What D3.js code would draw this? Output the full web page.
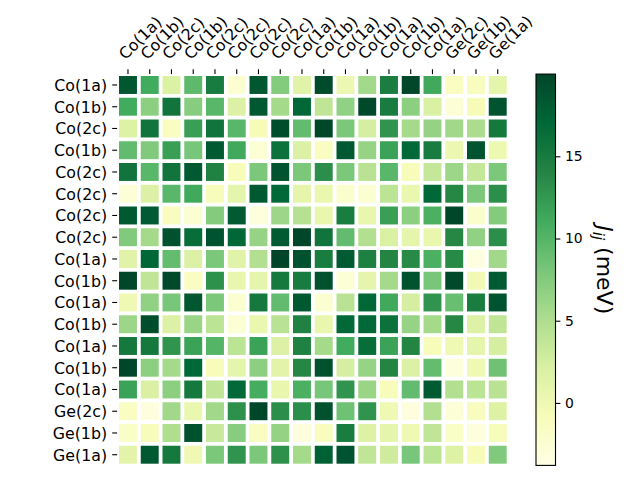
<!DOCTYPE html>
<html>
<head>
<meta charset="utf-8">
<script src="https://cdn.jsdelivr.net/npm/d3@7"></script>
<style>
  html, body { margin: 0; padding: 0; background: #fff; }
  svg { display: block; font-family: "DejaVu Sans", sans-serif; }
</style>
</head>
<body>
<svg id="chart" width="640" height="480"></svg>
<script>
const colLabels = ["Co(1a)","Co(1b)","Co(2c)","Co(1b)","Co(2c)","Co(2c)","Co(2c)","Co(2c)","Co(1a)","Co(1b)","Co(1a)","Co(1b)","Co(1a)","Co(1b)","Co(1a)","Ge(2c)","Ge(1b)","Ge(1a)"];
const rowLabels = ["Co(1a)","Co(1b)","Co(2c)","Co(1b)","Co(2c)","Co(2c)","Co(2c)","Co(2c)","Co(1a)","Co(1b)","Co(1a)","Co(1b)","Co(1a)","Co(1b)","Co(1a)","Ge(2c)","Ge(1b)","Ge(1a)"];
const values = [
  [18.5, 11, 2, 9.5, 15, -2.5, 18.5, 7.5, 1.5, 19.5, 0.3, 5.7, 14.7, 19.8, 11.2, -1.4, -1.2, 1],
  [11, 7, 15.7, 7.2, 9.8, 1.9, 18.3, 5.5, 17, 3.8, 6.7, 19.6, 15, 7, 2.1, -2.8, -0.7, 18.8],
  [1.7, 15.7, -1.4, 12, 15.7, 9.8, -0.7, 19.3, 9.3, 19.8, 7.9, 2.4, 12.8, 5.5, 6.5, 5.8, 5.2, 15.2],
  [9.3, 7.6, 12, 8.1, 18.2, 11.2, -2.6, 16, 1.9, -1.4, 18.3, 6.4, 11.7, 16.9, 15, 0.3, 18.8, 0.2],
  [15.7, 9.8, 15.7, 18.2, 14.3, -0.9, 7.9, 18.8, 7.9, 13.3, 7.9, 4.3, 9.8, -0.9, 3.6, 6, 3.6, 7.9],
  [-2.8, 1.9, 9.8, 11.2, -0.9, 1, 18.2, 16.9, 1, 0.5, -2.1, -2.4, 4.1, 0.5, 17, 13.8, 7.9, 13.3],
  [18.3, 18.1, -1.2, -2.4, 7.4, 18.1, -3.1, 6, 4.5, 0.7, 14.8, 0.7, 12, 7, 10.5, 19.8, -2.1, 7.4],
  [7.6, 5.5, 19, 16.4, 18.8, 17, 6.4, 18.1, 19.8, 15.7, 9.3, 4.8, 2.1, 1, 0.7, 13.8, 6.7, 13.3],
  [1.4, 17, 9.2, 1.9, 7.9, 1.4, 4.8, 20, 19, 14.8, 18.1, 14.5, 14, 13.6, 10.5, 13.6, -3.5, 5.8],
  [19.8, 3.8, 19.6, -1.4, 13.1, 0.7, 1, 15.2, 15, 19, -2.6, 1, 5.5, 19, 8.1, 19.6, -0.2, 18.1],
  [0, 6.7, 8.1, 18.5, 7.9, -2.4, 15.2, 9.3, 18.3, -2.4, 4.3, 17, 11.2, 2.4, 12.8, 8.9, 14.8, 18.8],
  [6, 19.3, 1.9, 6.2, 4.1, -2.6, 0.5, 4.3, 14.3, 0.7, 16.9, 16.9, 16, 6.4, 5.5, 13.8, 1.7, 3.8],
  [15.2, 15.2, 12.8, 11.7, 10, 4.1, 11.7, 1.9, 14.3, 5.5, 11, 16.4, 11.7, 14, -0.9, 0, 1, 2.4],
  [19.8, 7, 5.5, 16.9, -0.9, 1, 7, 1.2, 13.8, 19, 2.4, 6.4, 14, 1.9, 9.2, -3.1, 0, 8.6],
  [11.7, 2.1, 7, 15.2, 3.8, 16.9, 10.8, 0.7, 10.5, 8.1, 12.8, 6.2, -0.9, 9.3, 18.1, 4.8, 4.1, 4.3],
  [-1.4, -3.3, 5.8, 0.5, 5.8, 13.1, 19.8, 13.3, 13.3, 19, 8.6, 12.8, 0, -3.3, 4.8, -2.8, -1.2, 1.7],
  [-1.7, -0.9, 5, 19, 3.3, 7.2, -1.4, 6.5, -3.3, -1.2, 14.8, 1.7, 1, 0, 3.8, -1.7, -3.1, -0.9],
  [1.2, 18.3, 15.2, 0, 7.9, 12.8, 7.9, 13.1, 5.5, 17.6, 18.8, 3.8, 2.8, 8.1, 4.1, 1.7, -0.7, 7.6]
];
const colorbarTicks = [0, 5, 10, 15];
const vmin = -3.8, vmax = 20.0;
const ylgn = ["#ffffe5","#f7fcb9","#d9f0a3","#addd8e","#78c679","#41ab5d","#238443","#006837","#004529"];

const svg = d3.select("#chart");
const plotLeft = 117.1, plotTop = 74.1, plotSize = 391.5;
const n = colLabels.length;

const x = d3.scaleBand().domain(d3.range(n)).range([plotLeft, plotLeft + plotSize]).padding(0);
const y = d3.scaleBand().domain(d3.range(n)).range([plotTop, plotTop + plotSize]).padding(0);
const color = d3.scaleLinear()
  .domain(ylgn.map((_, i) => vmin + (vmax - vmin) * i / (ylgn.length - 1)))
  .range(ylgn).interpolate(d3.interpolateRgb).clamp(true);

const cells = [];
values.forEach((row, i) => row.forEach((v, j) => cells.push({i, j, v})));
const inset = 1.9;
svg.append("g").selectAll("rect").data(cells).join("rect")
  .attr("x", d => x(d.j) + inset)
  .attr("y", d => y(d.i) + inset)
  .attr("width", x.bandwidth() - 2 * inset)
  .attr("height", y.bandwidth() - 2 * inset)
  .attr("fill", d => color(d.v));

// top ticks
const gTop = svg.append("g");
d3.range(n).forEach(j => {
  const cx = x(j) + x.bandwidth() / 2;
  gTop.append("line").attr("x1", cx).attr("x2", cx).attr("y1", plotTop).attr("y2", plotTop - 4.9)
    .attr("stroke", "#000").attr("stroke-width", 1.1);
  gTop.append("text").attr("transform", `translate(${cx - 2.5},${60.5}) rotate(-45)`)
    .attr("font-size", 15.8).attr("fill", "#000").text(colLabels[j]);
});
// left ticks
const gLeft = svg.append("g");
d3.range(n).forEach(i => {
  const cy = y(i) + y.bandwidth() / 2;
  gLeft.append("line").attr("x1", plotLeft).attr("x2", plotLeft - 4.9).attr("y1", cy).attr("y2", cy)
    .attr("stroke", "#000").attr("stroke-width", 1.1);
  gLeft.append("text").attr("x", plotLeft - 10).attr("y", cy).attr("dy", "0.38em")
    .attr("text-anchor", "end").attr("font-size", 15.8).attr("fill", "#000").text(rowLabels[i]);
});

// colorbar
const cbX = 536, cbW = 19.5, cbTop = 74.1, cbBot = 465.4;
const defs = svg.append("defs");
const grad = defs.append("linearGradient").attr("id", "cbgrad")
  .attr("x1", 0).attr("y1", 1).attr("x2", 0).attr("y2", 0);
ylgn.forEach((c, k) => grad.append("stop").attr("offset", k / (ylgn.length - 1)).attr("stop-color", c));
svg.append("rect").attr("x", cbX).attr("y", cbTop).attr("width", cbW).attr("height", cbBot - cbTop)
  .attr("fill", "url(#cbgrad)").attr("stroke", "#000").attr("stroke-width", 1.1);
const cbScale = d3.scaleLinear().domain([vmin, vmax]).range([cbBot, cbTop]);
const cbAxis = d3.axisRight(cbScale).tickValues(colorbarTicks).tickSize(4.9).tickPadding(4.5).tickFormat(d3.format("d"));
const gcb = svg.append("g").attr("transform", `translate(${cbX + cbW},0)`).call(cbAxis);
gcb.select(".domain").remove();
gcb.selectAll("line").attr("stroke", "#000").attr("stroke-width", 1.1);
gcb.selectAll("text").attr("font-size", 13.9).attr("font-family", "DejaVu Sans").attr("fill", "#000");

// colorbar label
const lab = svg.append("text").attr("transform", `translate(597,${(cbTop + cbBot) / 2}) rotate(90)`)
  .attr("text-anchor", "middle").attr("font-size", 22).attr("fill", "#000");
lab.append("tspan").attr("font-style", "italic").text("J");
lab.append("tspan").attr("font-style", "italic").attr("font-size", 15).attr("dy", 4).text("ij");
lab.append("tspan").attr("dy", -4).text(" (meV)");
</script>
</body>
</html>
